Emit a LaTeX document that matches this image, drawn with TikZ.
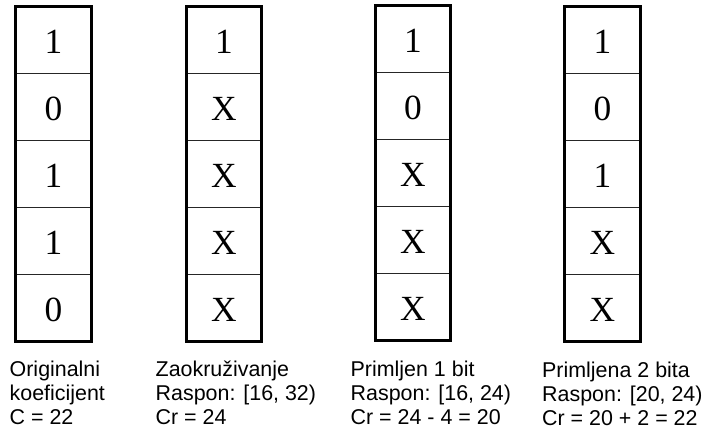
\documentclass[tikz,border=0pt]{standalone}
\usepackage{fontspec}
\setmainfont{Liberation Serif}
\newfontfamily\labfont{Liberation Sans}
\begin{document}
\begin{tikzpicture}[x=1bp,y=-1bp,
  frame/.style={line width=3bp, black},
  divider/.style={line width=1bp, black!85},
  cellval/.style={font=\fontsize{35.5}{40}\selectfont, inner sep=0pt},
  labtext/.style={font=\labfont\fontsize{21.5}{24}\selectfont, anchor=base west, inner sep=0pt}]
\useasboundingbox (0,0) rectangle (702,433);
% columns: index / left / right / top / values
\foreach \i/\xl/\xr/\yt/\vals in {
   1/15.5/91.2/6.5/{1,0,1,1,0},
   2/186.5/261.5/6.5/{1,X,X,X,X},
   3/375.5/450.5/5.5/{1,0,X,X,X},
   4/564.5/640.5/6.5/{1,0,1,X,X}}{
  \pgfmathsetmacro{\xm}{(\xl+\xr)/2}
  \foreach \k in {1,2,3,4}{
    \draw[divider] (\xl,\yt+\k*67) -- (\xr,\yt+\k*67);
  }
  \draw[frame] (\xl,\yt) rectangle (\xr,\yt+335);
  \foreach \v [count=\k] in \vals{
    \node[cellval] (c\i-\k) at (\xm,\yt+\k*67-33.5+2) {\v};
  }
}
% labels
\foreach \i/\x/\yb/\la/\lb/\lc in {
   1/9.5/376.7/Originalni/koeficijent/{C = 22},
   2/155.5/376.7/Zaokruživanje/{Raspon: [16, 32)}/{Cr = 24},
   3/350.5/376.7/Primljen 1 bit/{Raspon: [16, 24)}/{Cr = 24 - 4 = 20},
   4/542/377.7/Primljena 2 bita/{Raspon: [20, 24)}/{Cr = 20 + 2 = 22}}{
  \node[labtext] (l\i a) at (\x,\yb) {\la};
  \node[labtext] (l\i b) at (\x,\yb+23.7) {\lb};
  \node[labtext] (l\i c) at (\x,\yb+47.4) {\lc};
}
\end{tikzpicture}
\end{document}
